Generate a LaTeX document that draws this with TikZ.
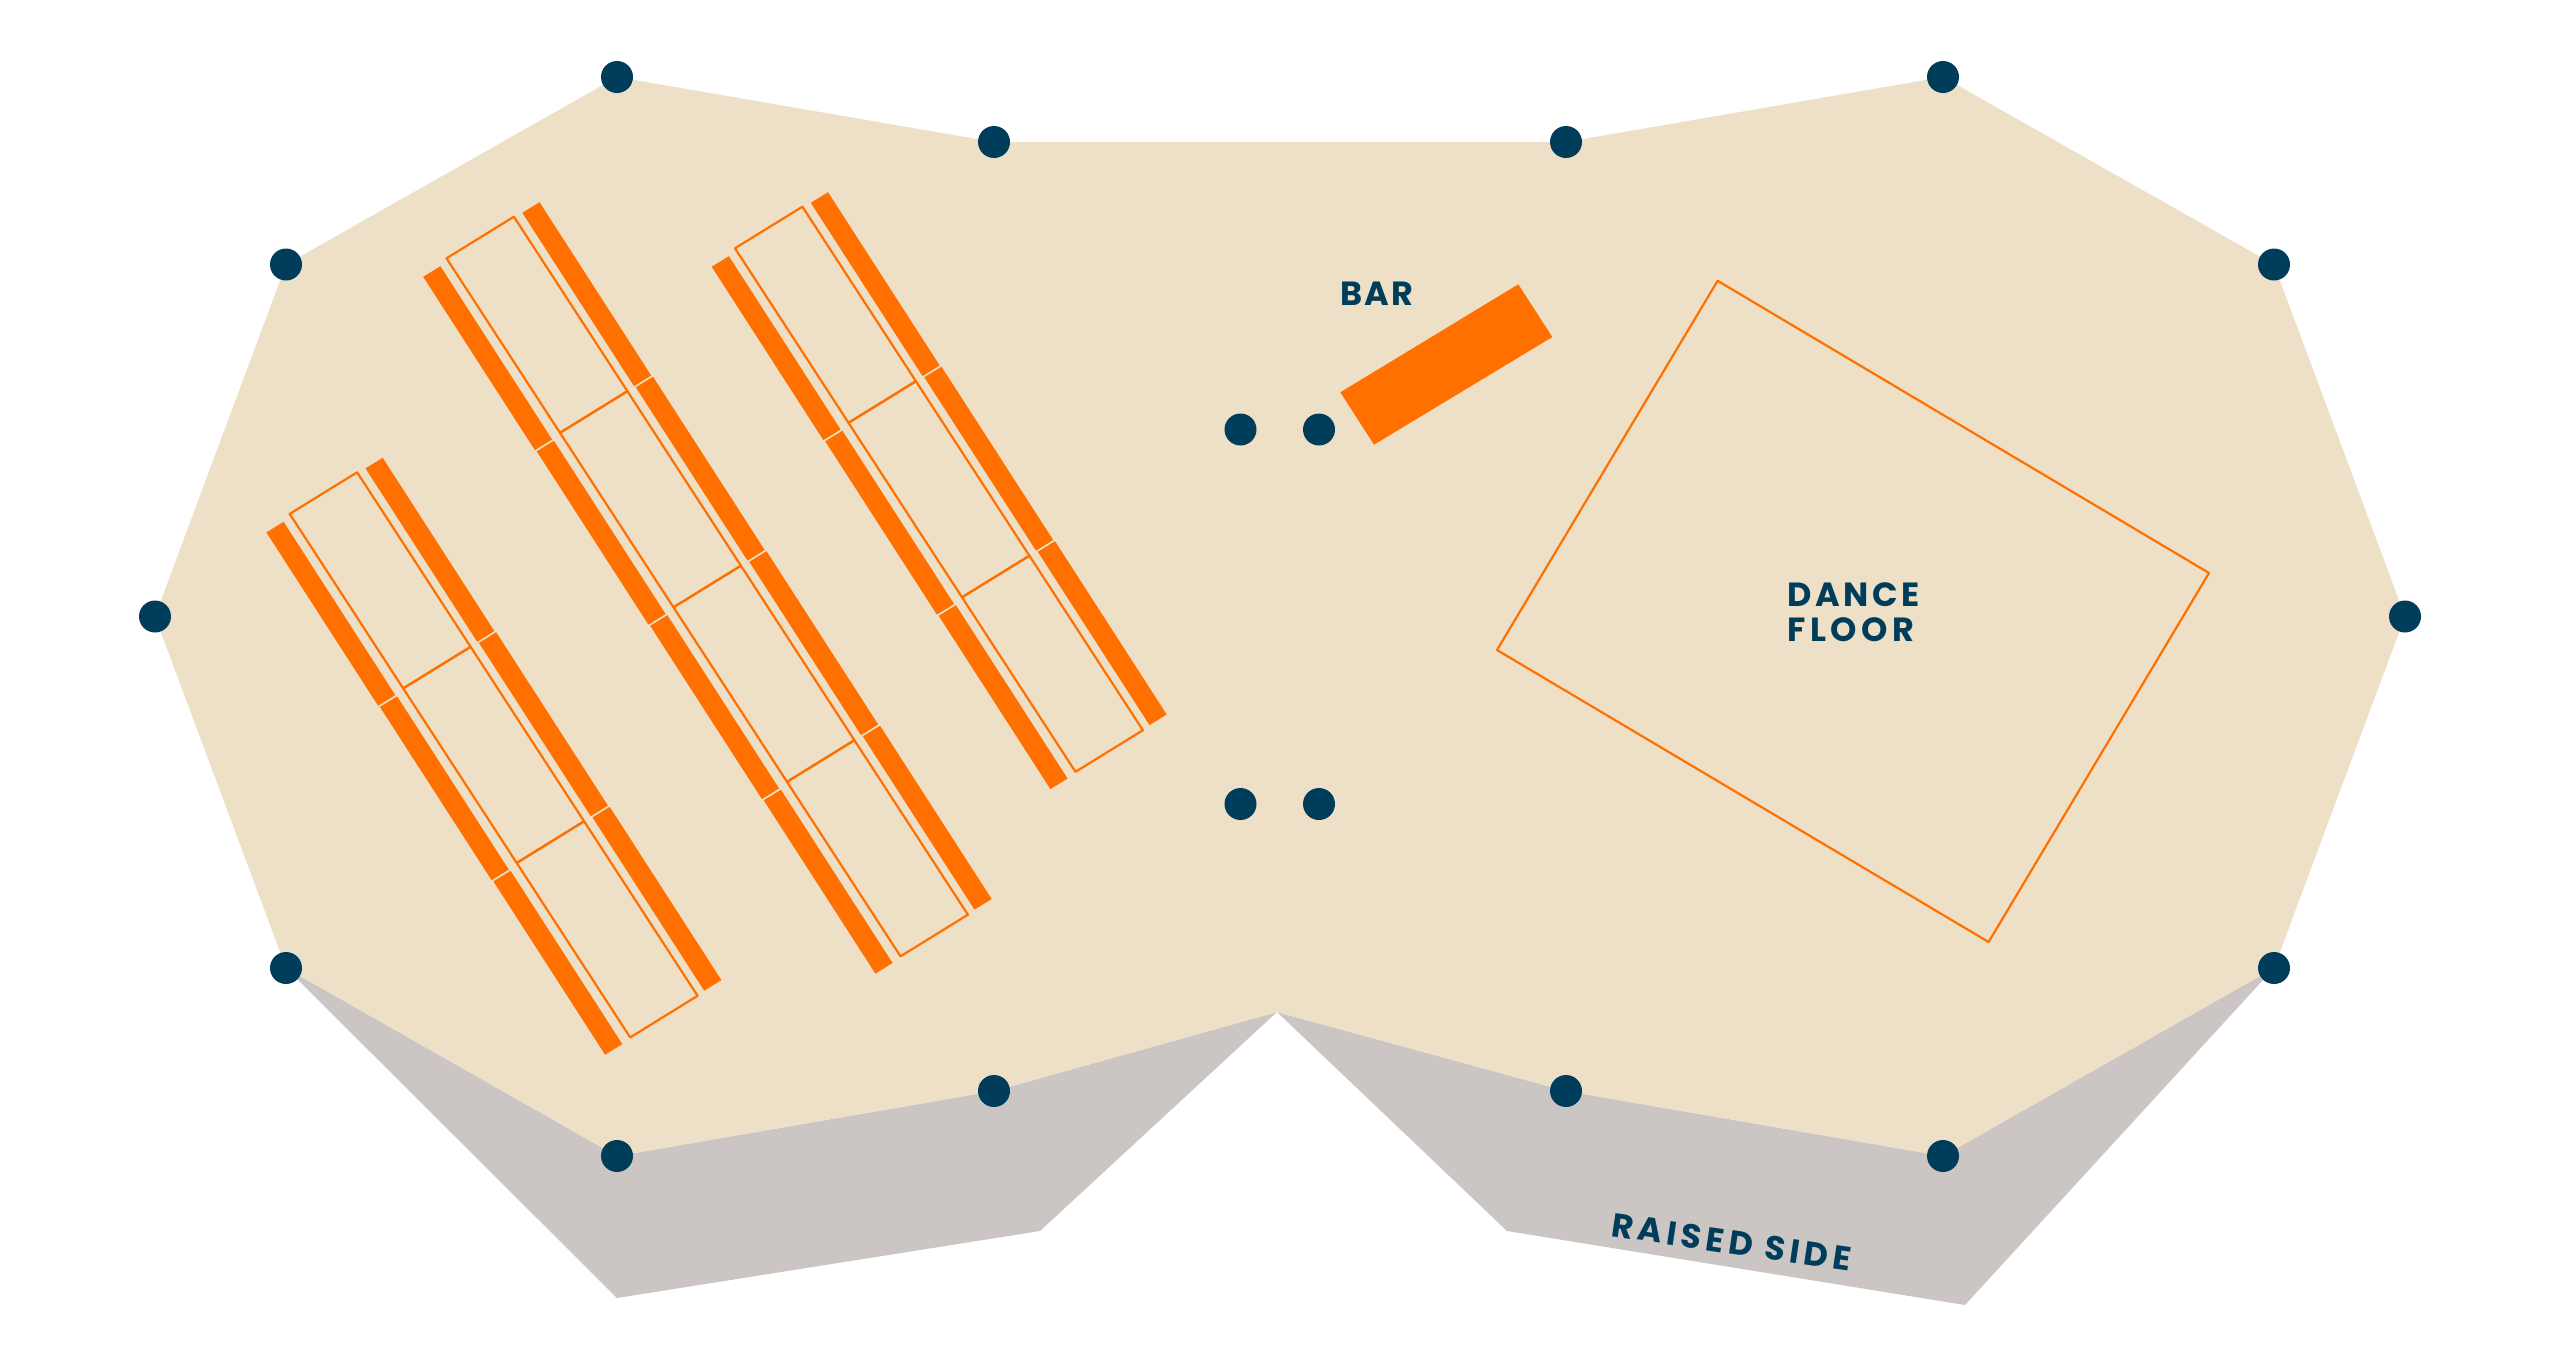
\documentclass[tikz,border=0pt]{standalone}
\usepackage{fontspec}
\setmainfont{Poppins}
\definecolor{sand}{HTML}{EEE0C6}
\definecolor{stone}{HTML}{CBC6C4}
\definecolor{flame}{HTML}{FF7000}
\definecolor{navy}{HTML}{003D5B}
\newcommand{\seatblock}[3]{%
  \begin{scope}[shift={(#1,#2)}]
    \foreach \k in {1,...,#3}{
      \fill[flame] ({522.3+(\k-1)*113.5},{212.8+(\k-1)*174.5}) -- ++(17.2,-10.6) -- ++(111.7,173.3) -- ++(-17.2,10.6) -- cycle;
      \fill[flame] ({423.2+(\k-1)*113.5},{276.8+(\k-1)*174.5}) -- ++(17.2,-10.6) -- ++(111.7,173.3) -- ++(-17.2,10.6) -- cycle;
      \draw[tableline] ({513.9+(\k-1)*113.5},{216.7+(\k-1)*174.5}) -- ++(-67.4,41.6) -- ++(113.5,174.5) -- ++(67.4,-41.6) -- cycle;
    }
  \end{scope}}
\tikzset{
  x=1pt,y=-1pt,
  tableline/.style={draw=flame,line width=2.2pt,line join=round},
  post/.style={circle,fill=navy,minimum size=32pt,inner sep=0pt,outer sep=0pt},
  label/.style={text=navy,inner sep=0pt,anchor=base west,font=\fontsize{33.5}{34.3}\selectfont\bfseries}
}
\begin{document}
\begin{tikzpicture}
\useasboundingbox (0,0) rectangle (2560,1366);
\fill[stone] (286,968) -- (617,1298) -- (1040,1231) -- (1277,1012) -- (994,1091) -- (617,1156) -- cycle;
\fill[stone] (1277,1012) -- (1507,1231) -- (1965,1305) -- (2274,968) -- (1943,1156) -- (1566,1091) -- cycle;
\fill[sand] (617,77) -- (994,142) -- (1566,142) -- (1943,77) -- (2274,264.5) -- (2405,616.5) -- (2274,968) -- (1943,1156) -- (1566,1091) -- (1277,1012) -- (994,1091) -- (617,1156) -- (286,968) -- (155,616.5) -- (286,264.5) -- cycle;
\seatblock{0}{0}{4}
\seatblock{-156.8}{255.6}{3}
\seatblock{288.5}{-10}{3}
\fill[flame] (1518.3,284.3) -- (1552.3,337) -- (1374,444.7) -- (1340.3,392.3) -- cycle;
\draw[tableline] (1717.6,280.8) -- (2209,573) -- (1988.6,942) -- (1497,650) -- cycle;
\foreach \n/\px/\py in {a/617/77,b/994/142,c/1566/142,d/1943/77,e/2274/264.5,f/2405/616.5,g/2274/968,h/1943/1156,i/1566/1091,j/994/1091,k/617/1156,l/286/968,m/155/616.5,n/286/264.5,o/1240.5/429.5,p/1319/429.5,q/1240.5/804,r/1319/804}
  \node[post] (post\n) at (\px,\py) {};
\node[label] (barlabel) at (1340,305.3) {\addfontfeatures{LetterSpace=7}BAR};
\node[label] (dance) at (1787,606.7) {\addfontfeatures{LetterSpace=11}DANCE};
\node[label] (floor) at (1787,641) {\addfontfeatures{LetterSpace=14}FLOOR};
\node[label,rotate=-8.45] (raised) at (1610,1236) {\addfontfeatures{LetterSpace=14}RAISED SIDE};
\end{tikzpicture}
\end{document}
